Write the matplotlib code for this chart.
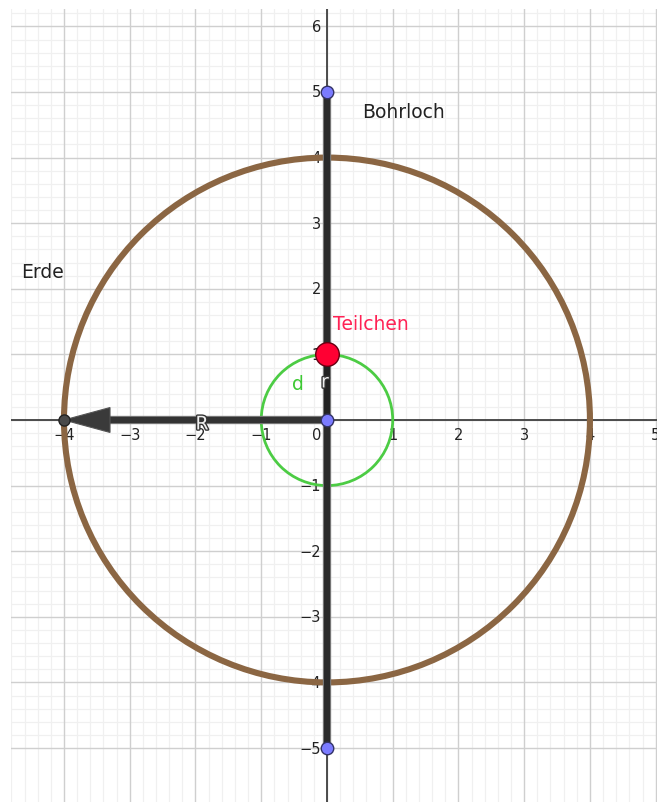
import numpy as np
import matplotlib
matplotlib.use("Agg")
import matplotlib.pyplot as plt
from matplotlib.patches import Circle
import matplotlib.patheffects as pe

# data
earth_radius = 4.0
green_radius = 1.0
borehole = [(0, 5), (0, -5)]
blue_points = [(0, 5), (0, -5), (0, 0)]
particle = (0, 1)
earth_point = (-4, 0)
x_ticks = [-4, -3, -2, -1, 1, 2, 3, 4, 5]
y_ticks = [-5, -4, -3, -2, -1, 1, 2, 3, 4, 5, 6]

xlim = (-4.806, 5.02)
ylim = (-5.823, 6.265)

fig = plt.figure(figsize=(6.57, 8.03), dpi=100)
ax = fig.add_axes([11/657, 0, 646/657, 793/803])
ax.set_xlim(*xlim)
ax.set_ylim(*ylim)
ax.set_aspect('auto')
ax.axis('off')

# grid
for v in np.arange(-5, 7.01, 0.2):
    if abs(v - round(v)) < 1e-6:
        continue
    ax.axvline(v, color='#f0f0f0', lw=0.9, zorder=0)
    ax.axhline(v, color='#f0f0f0', lw=0.9, zorder=0)
for v in range(-6, 8):
    ax.axvline(v, color='#cfcfcf', lw=1.0, zorder=0.5)
    ax.axhline(v, color='#cfcfcf', lw=1.0, zorder=0.5)

# axes lines
ax.axhline(0, color='#404040', lw=1.3, zorder=1)
ax.axvline(0, color='#404040', lw=1.3, zorder=1)

# tick labels
tfs = 10.5
for t in x_ticks:
    ax.text(t, -0.11, f"{t}".replace('-', '\u2212'), ha='center', va='top',
            fontsize=tfs, color='#222222', zorder=2)
for t in y_ticks:
    ax.text(-0.09, t, f"{t}".replace('-', '\u2212'), ha='right', va='center',
            fontsize=tfs, color='#222222', zorder=2)
ax.text(-0.09, -0.11, "0", ha='right', va='top', fontsize=tfs, color='#222222', zorder=2)

# earth circle
ax.add_patch(Circle((0, 0), earth_radius, fill=False, ec='#8b6643', lw=4.4, zorder=3))
# green circle
ax.add_patch(Circle((0, 0), green_radius, fill=False, ec='#4ccc44', lw=2.0, zorder=3))

# borehole segment
xs, ys = zip(*borehole)
ax.plot(xs, ys, color='#2a2a2a', lw=4.5, solid_capstyle='butt', zorder=4,
        path_effects=[pe.Stroke(linewidth=6, foreground='#808080'), pe.Normal()])

# vector R
ax.plot([0, -3.3], [0, 0], color='#333333', lw=4.5, solid_capstyle='butt', zorder=4,
        path_effects=[pe.Stroke(linewidth=6, foreground='#808080'), pe.Normal()])
ax.add_patch(plt.Polygon([[-4, 0], [-3.3, 0.19], [-3.3, -0.19]], closed=True,
                         fc='#3a3a3a', ec='#555555', lw=0.8, zorder=4.5))

# vector r (from origin to particle)
ax.plot([0, 0], [0, 0.8], color='#222222', lw=4, zorder=4.2)

# points
ax.plot(*earth_point, 'o', ms=8, mfc='#4a4a4a', mec='#222222', mew=1, zorder=6)
for p in blue_points:
    ax.plot(*p, 'o', ms=9, mfc='#7b7bff', mec='#333366', mew=1, zorder=6)
ax.plot(*particle, 'o', ms=17, mfc='#ff0033', mec='#660011', mew=1, zorder=7)

# labels
lfs = 13.5
ax.text(0.53, 4.7, "Bohrloch", fontsize=lfs, color='#222222', ha='left', va='center', zorder=8)
ax.text(-4.65, 2.27, "Erde", fontsize=lfs, color='#222222', ha='left', va='center', zorder=8)
ax.text(0.09, 1.47, "Teilchen", fontsize=lfs, color='#ff2255', ha='left', va='center', zorder=8)
ax.text(-0.44, 0.56, "d", fontsize=lfs, color='#3cc832', ha='center', va='center', zorder=8)
ax.text(-0.03, 0.58, "r", fontsize=lfs, color='#eeeeee', ha='center', va='center', zorder=8,
        path_effects=[pe.withStroke(linewidth=2, foreground='#333333')])
ax.text(-1.9, -0.06, "R", fontsize=lfs, color='#eeeeee', ha='center', va='center', zorder=8,
        path_effects=[pe.withStroke(linewidth=2, foreground='#333333')])

fig.savefig("out.png", dpi=100, facecolor='white')
